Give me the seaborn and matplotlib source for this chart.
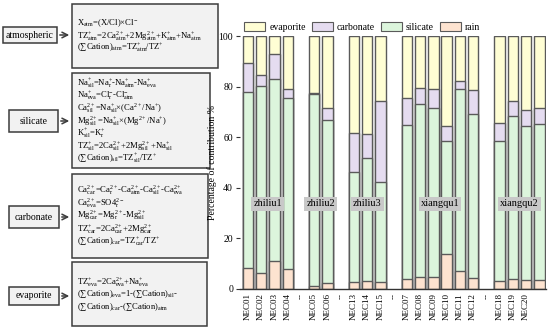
import numpy as np
import pandas as pd
import seaborn as sns
import matplotlib.pyplot as plt
from matplotlib.patches import Patch, Rectangle

# contribution of each source (%) per sampling site
sites = ['NEC01', 'NEC02', 'NEC03', 'NEC04', 'NEC05', 'NEC06', 'NEC13', 'NEC14', 'NEC15',
         'NEC07', 'NEC08', 'NEC09', 'NEC10', 'NEC11', 'NEC12', 'NEC18', 'NEC19', 'NEC20', 'NEC21']
rain = [8.2, 6.2, 11.1, 7.9, 1.2, 2.5, 2.9, 3.3, 2.6,
        4.0, 4.6, 4.6, 13.7, 7.1, 4.2, 3.2, 4.0, 3.6, 3.6]
silicate = [69.8, 74.2, 71.8, 67.5, 75.9, 64.3, 43.5, 48.6, 39.8,
            60.8, 68.5, 67.1, 44.8, 72.1, 64.8, 55.3, 64.5, 60.9, 61.5]
carbonate = [11.2, 4.2, 10.0, 3.5, 0.5, 4.6, 15.1, 9.4, 31.9,
             10.6, 6.2, 7.2, 5.9, 3.1, 9.7, 7.0, 5.8, 6.3, 6.6]
evaporite = [10.8, 15.4, 7.1, 21.1, 22.4, 28.6, 38.5, 38.7, 25.7,
             24.6, 20.7, 21.1, 35.6, 17.7, 21.3, 34.5, 25.7, 29.2, 28.3]

# x order with empty slots between the groups
order = ['NEC01', 'NEC02', 'NEC03', 'NEC04', 'gap1', 'NEC05', 'NEC06', 'gap2',
         'NEC13', 'NEC14', 'NEC15', 'gap3', 'NEC07', 'NEC08', 'NEC09', 'NEC10',
         'NEC11', 'NEC12', 'gap4', 'NEC18', 'NEC19', 'NEC20', 'NEC21']
tick_labels = ['NEC01', 'NEC02', 'NEC03', 'NEC04', '--', 'NEC05', 'NEC06', '--',
               'NEC13', 'NEC14', 'NEC15', '--', 'NEC07', 'NEC08', 'NEC09', 'NEC10',
               'NEC11', 'NEC12', '--', 'NEC18', 'NEC19', 'NEC20', '']
groups = ['zhiliu1', 'zhiliu2', 'zhiliu3', 'xiangqu1', 'xiangqu2']
group_members = [['NEC01', 'NEC04'], ['NEC05', 'NEC06'], ['NEC13', 'NEC15'],
                 ['NEC07', 'NEC12'], ['NEC18', 'NEC21']]

sources = ['evaporite', 'carbonate', 'silicate', 'rain']
colors = {'evaporite': '#fffed4', 'carbonate': '#e5dcf0',
          'silicate': '#dcf5dc', 'rain': '#fde3d0'}
edge = '#5a5a5a'

df = pd.DataFrame({'site': sites, 'rain': rain, 'silicate': silicate,
                   'carbonate': carbonate, 'evaporite': evaporite})
df['cum_rain'] = df['rain']
df['cum_silicate'] = df['cum_rain'] + df['silicate']
df['cum_carbonate'] = df['cum_silicate'] + df['carbonate']
df['cum_evaporite'] = df['cum_carbonate'] + df['evaporite']

plt.rcParams['font.family'] = ['Liberation Serif', 'DejaVu Serif']
plt.rcParams['mathtext.fontset'] = 'custom'
plt.rcParams['mathtext.rm'] = 'Liberation Serif'
plt.rcParams['mathtext.it'] = 'Liberation Serif:italic'
plt.rcParams['mathtext.bf'] = 'Liberation Serif:bold'

fig = plt.figure(figsize=(5.5, 3.3), dpi=100)

# ---- left: formula boxes (drawn in pixel coords) ----
bg = fig.add_axes([0, 0, 1, 1])
bg.set_xlim(0, 550)
bg.set_ylim(330, 0)
bg.axis('off')

box_fc = '#f2f2f2'
box_ec = '#3c3c3c'

atm_lines = ["X$_{\\rm atm}$=(X/Cl)×Cl$^{-}$",
             "TZ$^{+}_{\\rm atm}$=2Ca$^{2+}_{\\rm atm}$+2Mg$^{2+}_{\\rm atm}$+K$^{+}_{\\rm atm}$+Na$^{+}_{\\rm atm}$",
             "(∑Cation)$_{\\rm atm}$=TZ$^{+}_{\\rm atm}$/TZ$^{+}$"]
sil_lines = ["Na$^{+}_{\\rm sil}$=Na$^{+}_{\\rm r}$-Na$^{+}_{\\rm atm}$-Na$^{+}_{\\rm eva}$",
             "Na$^{+}_{\\rm eva}$=Cl$^{-}_{\\rm r}$-Cl$^{-}_{\\rm atm}$",
             "Ca$^{2+}_{\\rm sil}$=Na$^{+}_{\\rm sil}$×(Ca$^{2+}$/Na$^{+}$)",
             "Mg$^{2+}_{\\rm sil}$=Na$^{+}_{\\rm sil}$×(Mg$^{2+}$/Na$^{+}$)",
             "K$^{+}_{\\rm sil}$=K$^{+}_{\\rm r}$",
             "TZ$^{+}_{\\rm sil}$=2Ca$^{2+}_{\\rm sil}$+2Mg$^{2+}_{\\rm sil}$+Na$^{+}_{\\rm sil}$",
             "(∑Cation)$_{\\rm sil}$=TZ$^{+}_{\\rm sil}$/TZ$^{+}$"]
car_lines = ["Ca$^{2+}_{\\rm car}$=Ca$^{2+}_{\\rm r}$-Ca$^{2+}_{\\rm atm}$-Ca$^{2+}_{\\rm sil}$-Ca$^{2+}_{\\rm eva}$",
             "Ca$^{2+}_{\\rm eva}$=SO4$^{2-}_{\\rm r}$",
             "Mg$^{2+}_{\\rm car}$=Mg$^{2+}_{\\rm r}$-Mg$^{2+}_{\\rm sil}$",
             "TZ$^{+}_{\\rm car}$=2Ca$^{2+}_{\\rm car}$+2Mg$^{2+}_{\\rm car}$",
             "(∑Cation)$_{\\rm car}$=TZ$^{+}_{\\rm car}$/TZ$^{+}$"]
eva_lines = ["TZ$^{+}_{\\rm eva}$=2Ca$^{2+}_{\\rm eva}$+Na$^{+}_{\\rm eva}$",
             "(∑Cation)$_{\\rm eva}$=1-(∑Cation)$_{\\rm sil}$-",
             "(∑Cation)$_{\\rm car}$-(∑Cation)$_{\\rm atm}$"]

# (label, label box (x0,y0,x1,y1), formula box, lines, first line y, line step)
panels = [('atmospheric', (3, 27, 57, 43), (72, 4, 218, 68), atm_lines, 23, 12.5),
          ('silicate', (9, 110, 58, 132), (72, 73, 210, 168), sil_lines, 83, 12.6),
          ('carbonate', (9, 206, 59, 228), (72, 174, 208, 258), car_lines, 190, 12.8),
          ('evaporite', (9, 287, 59, 305), (72, 262, 207, 326), eva_lines, 281, 13)]

for name, lb, fb, lines, y0, dy in panels:
    bg.add_patch(Rectangle((lb[0], lb[1]), lb[2] - lb[0], lb[3] - lb[1],
                           facecolor=box_fc, edgecolor=box_ec, lw=1.1))
    bg.text((lb[0] + lb[2]) / 2, (lb[1] + lb[3]) / 2, name, ha='center', va='center', fontsize=7)
    bg.add_patch(Rectangle((fb[0], fb[1]), fb[2] - fb[0], fb[3] - fb[1],
                           facecolor=box_fc, edgecolor=box_ec, lw=1.1))
    ym = (lb[1] + lb[3]) / 2
    bg.annotate('', xy=(fb[0], ym), xytext=(lb[2], ym),
                arrowprops=dict(arrowstyle='->', color=box_ec, lw=1.1))
    for i, line in enumerate(lines):
        bg.text(fb[0] + 5, y0 + i * dy, line, ha='left', va='center', fontsize=6.2)

# ---- right: stacked bar chart ----
ax = fig.add_axes([240 / 550, 41 / 330, 306 / 550, 253 / 330])

for src in sources:
    sns.barplot(data=df, x='site', y='cum_' + src, order=order, color=colors[src],
                saturation=1, edgecolor=edge, linewidth=1, width=0.78,
                errorbar=None, ax=ax)

ax.set_xlim(-0.6, len(order) - 0.5)
ax.set_ylim(0, 100)
ax.set_yticks([0, 20, 40, 60, 80, 100])
ax.set_xticks(range(len(order)))
ax.set_xticklabels(tick_labels, rotation=90, fontsize=6.5)
ax.tick_params(axis='y', labelsize=7, length=3, width=0.8, color='#333333', pad=2)
ax.tick_params(axis='x', length=0, pad=3)
ax.set_xlabel('')
ax.set_ylabel('Percentage of contribution %', fontsize=7, labelpad=1)
for s in ['top', 'right', 'left']:
    ax.spines[s].set_visible(False)
ax.spines['bottom'].set_linewidth(1)
ax.spines['bottom'].set_color('#333333')

for g, (a, b) in zip(groups, group_members):
    xc = (order.index(a) + order.index(b)) / 2
    ax.text(xc, 33.6, g, ha='center', va='center', fontsize=7.5,
            bbox=dict(boxstyle='square,pad=0.2', facecolor='#c8c8c8', edgecolor='none'))

handles = [Patch(facecolor=colors[s], edgecolor=edge, lw=0.8, label=s) for s in sources]
fig.legend(handles=handles, loc='center left', bbox_to_anchor=(244 / 550, 1 - 27 / 330),
           ncol=4, frameon=False, fontsize=7, handlelength=2.2, handleheight=1.0,
           handletextpad=0.4, columnspacing=0.6, borderpad=0, borderaxespad=0)

fig.savefig('out.png', dpi=100)
